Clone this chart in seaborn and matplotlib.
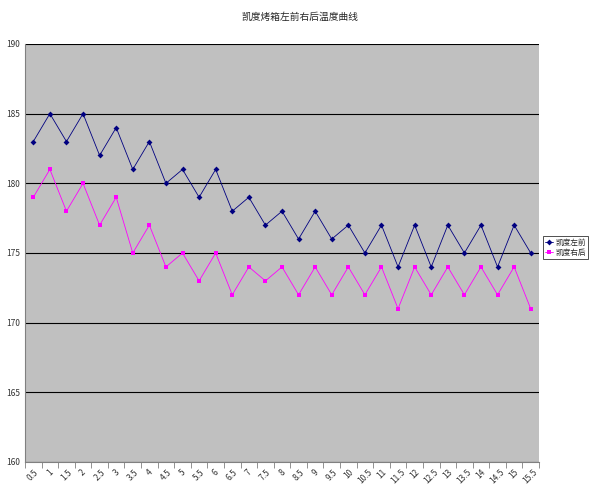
import matplotlib
matplotlib.use("Agg")
import matplotlib.pyplot as plt
import seaborn as sns
import pandas as pd
import numpy as np

x_labels = [str(v / 2).rstrip('0').rstrip('.') if v % 2 else str(v // 2) for v in range(1, 32)]
left_front = [183,185,183,185,182,184,181,183,180,181,179,181,178,179,177,178,176,178,176,177,175,177,174,177,174,177,175,177,174,177,175]
right_back = [179,181,178,180,177,179,175,177,174,175,173,175,172,174,173,174,172,174,172,174,172,174,171,174,172,174,172,174,172,174,171]
s1 = "凯度左前"
s2 = "凯度右后"

sns.set_style("white")
plt.rcParams['font.family'] = ['Noto Sans CJK SC', 'DejaVu Sans']

idx = np.arange(len(x_labels))
df = pd.DataFrame({"x": np.concatenate([idx, idx]),
                   "y": left_front + right_back,
                   "s": [s1] * len(idx) + [s2] * len(idx)})

fig = plt.figure(figsize=(6, 4.95), dpi=100)
ax = fig.add_axes([25/600, 1 - 462/495, (539-25)/600, (462-44)/495])
ax.set_facecolor("#c0c0c0")
sns.lineplot(data=df, x="x", y="y", hue="s", style="s",
             palette={s1: "#000080", s2: "#ff00ff"},
             markers={s1: "D", s2: "s"}, dashes=False,
             markersize=3, linewidth=0.6, markeredgewidth=0, ax=ax)
ax.set_xlim(-0.5, len(idx) - 0.5)
ax.set_ylim(160, 190)
ax.set_yticks(range(160, 191, 5))
ax.yaxis.grid(True, color="black", linewidth=0.8)
ax.set_axisbelow(True)
ax.set_xticks(idx)
ax.set_xticklabels(x_labels, rotation=45, fontsize=6, color="#333333")
ax.set_xticks(np.arange(-0.5, len(idx), 1), minor=True)
ax.tick_params(axis="x", which="major", length=0, pad=4)
ax.tick_params(axis="x", which="minor", length=4, color="#808080", bottom=True)
ax.tick_params(axis="y", labelsize=6, length=0, colors="#333333")
ax.set_xlabel("")
ax.set_ylabel("")
for sp in ["left", "bottom"]:
    ax.spines[sp].set_color("#808080")
for sp in ["top", "right"]:
    ax.spines[sp].set_visible(False)
leg = ax.legend(loc="center left", bbox_to_anchor=(543/600, 0.5), bbox_transform=fig.transFigure,
                fontsize=5.5, frameon=True, fancybox=False, edgecolor="black",
                handlelength=1.0, handletextpad=0.3, borderpad=0.3, labelspacing=0.3,
                borderaxespad=0)
leg.get_frame().set_linewidth(0.6)
fig.text(0.5, 1 - 17/495, "凯度烤箱左前右后温度曲线", ha="center", va="center", fontsize=7)
fig.savefig("out.png", dpi=100)
